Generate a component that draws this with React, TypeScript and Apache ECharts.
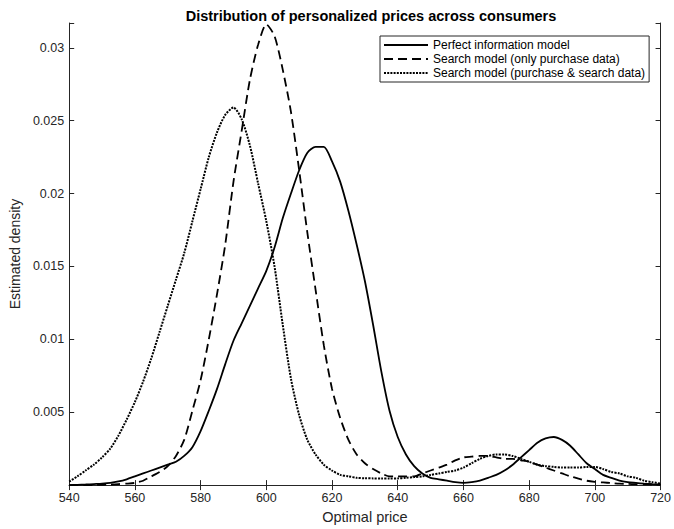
import React, { useEffect, useRef } from "react";
import * as echarts from "echarts";

const titleText = "Distribution of personalized prices across consumers";
const xAxisTitle = "Optimal price";
const yAxisTitle = "Estimated density";
const seriesNames = [
  "Perfect information model",
  "Search model (only purchase data)",
  "Search model (purchase & search data)",
];

const prices = [
  540, 542.5, 545, 547.5, 550, 552.5, 555, 557.5, 560, 562.5, 565, 567.5, 570, 572.5, 575, 577.5,
  580, 582.5, 585, 587.5, 590, 592.5, 595, 597.5, 600, 602.5, 605, 607.5, 610, 612.5, 615, 617.5,
  620, 622.5, 625, 627.5, 630, 632.5, 635, 637.5, 640, 642.5, 645, 647.5, 650, 652.5, 655, 657.5,
  660, 662.5, 665, 667.5, 670, 672.5, 675, 677.5, 680, 682.5, 685, 687.5, 690, 692.5, 695, 697.5,
  700, 702.5, 705, 707.5, 710, 712.5, 715, 717.5, 720,
];

const perfectInfo = [
  0, 0.00002, 0.00004, 0.00007, 0.0001, 0.00015, 0.00025, 0.0004, 0.0006, 0.0008, 0.001, 0.0012, 0.0014, 0.0016, 0.002, 0.0026,
  0.0037, 0.0051, 0.0066, 0.0083, 0.0099, 0.0111, 0.0123, 0.0135, 0.0147, 0.0163, 0.0183, 0.02, 0.0216, 0.0228, 0.0232, 0.0232,
  0.0222, 0.0208, 0.0188, 0.0165, 0.014, 0.011, 0.0078, 0.0051, 0.0033, 0.0021, 0.0013, 0.0008, 0.0005, 0.0004, 0.0003, 0.0002,
  0.00015, 0.0002, 0.0003, 0.0005, 0.0007, 0.001, 0.0014, 0.0019, 0.0024, 0.0029, 0.0032, 0.0033, 0.0031, 0.0027, 0.0021, 0.0015,
  0.0011, 0.0007, 0.0005, 0.0003, 0.0002, 0.00015, 0.0001, 0.00006, 0.00003,
];

const searchPurchase = [
  0, 0, 0, 0.00001, 0.00002, 0.00004, 0.00007, 0.0001, 0.00015, 0.0003, 0.0006, 0.0009, 0.0013, 0.002, 0.0031, 0.0051,
  0.0072, 0.01, 0.0131, 0.0165, 0.0208, 0.0243, 0.0278, 0.0302, 0.0316, 0.0308, 0.0285, 0.0256, 0.0216, 0.0173, 0.0134, 0.0096,
  0.0066, 0.0046, 0.0031, 0.0021, 0.0015, 0.0011, 0.0008, 0.0006, 0.0006, 0.0006, 0.0006, 0.0008, 0.001, 0.0012, 0.0014, 0.0017,
  0.0019, 0.00195, 0.002, 0.002, 0.0019, 0.0018, 0.0018, 0.0017, 0.0016, 0.0014, 0.0012, 0.001, 0.0008, 0.0006, 0.00045, 0.0003,
  0.00022, 0.00018, 0.00014, 0.0001, 0.00008, 0.00006, 0.00005, 0.00004, 0.00003,
];

const searchPurchaseSearch = [
  0.00024, 0.0006, 0.001, 0.0014, 0.0019, 0.0025, 0.0034, 0.0045, 0.0057, 0.0071, 0.0087, 0.0105, 0.0123, 0.0141, 0.0159, 0.0181,
  0.0203, 0.0225, 0.0242, 0.0254, 0.0259, 0.0251, 0.0233, 0.0207, 0.0181, 0.015, 0.011, 0.0073, 0.0048, 0.0031, 0.0021, 0.0014,
  0.001, 0.0007, 0.0006, 0.0005, 0.00047, 0.00046, 0.00045, 0.00045, 0.00046, 0.0005, 0.00055, 0.0006, 0.0007, 0.0008, 0.0009, 0.001,
  0.0012, 0.0015, 0.0018, 0.002, 0.0021, 0.0021, 0.002, 0.0018, 0.0016, 0.0014, 0.0013, 0.00125, 0.0012, 0.0012, 0.0012, 0.00125,
  0.00125, 0.0011, 0.0009, 0.0008, 0.0006, 0.0005, 0.0003, 0.0002, 0.0001,
];

const axisColor = "#262626";
const font = "'Liberation Sans', Arial, Helvetica, sans-serif";

function pairs(ys: number[]) {
  return prices.map((x, i) => [x, ys[i]]);
}

export default function App() {
  const ref = useRef<HTMLDivElement>(null);
  useEffect(() => {
    document.body.style.margin = "0";
    if (!ref.current) return;
    const chart = echarts.init(ref.current, undefined, { renderer: "svg" });
    const axisCommon = {
      axisLine: { show: true, lineStyle: { color: axisColor, width: 1 } },
      axisTick: { show: true, inside: true, length: 5, lineStyle: { color: axisColor } },
      splitLine: { show: false },
    };
    const lineSeries = (name: string, ys: number[], type: any, width: number) => ({
      name,
      type: "line",
      data: pairs(ys),
      showSymbol: false,
      symbol: "none",
      smooth: 0.25,
      lineStyle: { color: "#000", width, type },
      itemStyle: { color: "#000" },
      z: 3,
    });
    chart.setOption({
      animation: false,
      backgroundColor: "#fff",
      textStyle: { fontFamily: font },
      title: {
        text: titleText,
        left: 366,
        textAlign: "center",
        top: 3,
        textStyle: { fontFamily: font, fontSize: 14.5, fontWeight: "bold", color: "#000" },
      },
      grid: { left: 68, right: 10, top: 23, bottom: 35 },
      legend: {
        orient: "vertical",
        left: 380,
        top: 36,
        padding: [2, 4, 2, 3],
        itemGap: 0,
        itemWidth: 44,
        itemHeight: 14,
        borderColor: axisColor,
        borderWidth: 1,
        backgroundColor: "#fff",
        itemStyle: { opacity: 0, borderWidth: 0 },
        textStyle: { fontFamily: font, fontSize: 12, color: "#000", lineHeight: 14 },
        data: seriesNames,
      },
      xAxis: [
        {
          type: "value",
          min: 540,
          max: 720,
          interval: 20,
          position: "bottom",
          ...axisCommon,
          axisLabel: { color: axisColor, fontSize: 12.5, margin: 6, fontFamily: font },
          name: xAxisTitle,
          nameLocation: "middle",
          nameGap: 19,
          nameTextStyle: { color: axisColor, fontSize: 14.5, fontFamily: font },
        },
        {
          type: "value",
          min: 540,
          max: 720,
          interval: 20,
          position: "top",
          ...axisCommon,
          axisLabel: { show: false },
        },
      ],
      yAxis: [
        {
          type: "value",
          min: 0,
          max: 0.0317,
          interval: 0.005,
          position: "left",
          ...axisCommon,
          axisLabel: {
            color: axisColor,
            fontSize: 12.5,
            margin: 5,
            fontFamily: font,
            formatter: (v: number) => {
              if (v < 1e-9 || v > 0.0305) return "";
              return String(parseFloat(v.toFixed(4)));
            },
          },
          name: yAxisTitle,
          nameLocation: "middle",
          nameGap: 41,
          nameTextStyle: { color: axisColor, fontSize: 14, fontFamily: font },
        },
        {
          type: "value",
          min: 0,
          max: 0.0317,
          interval: 0.005,
          position: "right",
          ...axisCommon,
          axisLabel: { show: false },
        },
      ],
      series: [
        lineSeries(seriesNames[0], perfectInfo, "solid", 1.8),
        lineSeries(seriesNames[1], searchPurchase, [9, 5], 1.8),
        lineSeries(seriesNames[2], searchPurchaseSearch, [2, 1.2], 2),
      ],
    });
    return () => chart.dispose();
  }, []);
  return <div ref={ref} style={{ width: 674, height: 529 }} />;
}
